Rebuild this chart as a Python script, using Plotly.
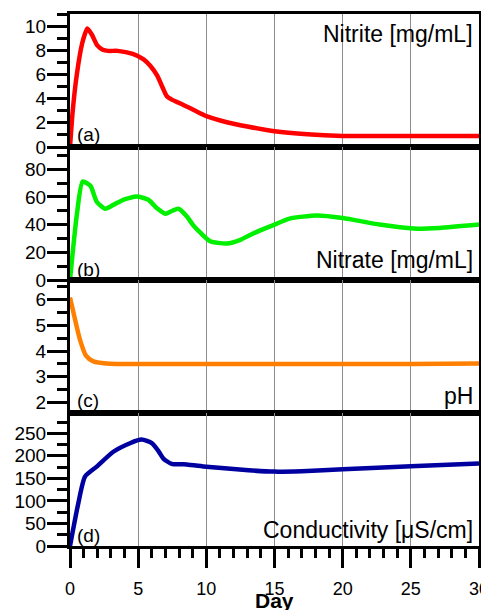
import plotly.graph_objects as go
from plotly.subplots import make_subplots

# ---- data ----
nitrite_day = [0, 0.2, 0.5, 0.9, 1.27, 1.6, 2.0, 2.4, 2.8, 3.5, 4.6, 5.4, 5.9, 6.4, 6.8, 7.1, 7.5, 8.1, 9.0, 10.0, 11.5, 13.0, 15.0, 17.4, 20.0, 25.0, 30.0]
nitrite_val = [0, 3.0, 6.0, 8.6, 9.8, 9.3, 8.4, 8.05, 7.95, 7.95, 7.7, 7.25, 6.7, 5.9, 4.9, 4.2, 3.9, 3.6, 3.1, 2.55, 2.05, 1.7, 1.3, 1.05, 0.92, 0.9, 0.9]

nitrate_day = [0, 0.5, 0.93, 1.5, 1.96, 2.57, 3.2, 3.9, 4.9, 5.75, 6.36, 7.0, 7.5, 7.95, 8.56, 9.0, 9.54, 10.27, 11.5, 12.5, 13.1, 14.0, 15.0, 16.1, 18.1, 20.0, 22.7, 25.2, 27.1, 30.0]
nitrate_val = [0, 47, 71, 68, 56.5, 51.5, 54.3, 57.9, 60.2, 57.9, 51.9, 47.8, 50, 51.4, 46, 40, 34.3, 28, 26.4, 29, 32, 36, 40, 44.3, 46.6, 44.8, 40, 37.1, 37.6, 40]

ph_day = [0, 0.37, 0.73, 1.17, 1.71, 2.93, 5, 10, 15, 20, 25, 30]
ph_val = [6.07, 5.22, 4.44, 3.82, 3.6, 3.51, 3.5, 3.5, 3.5, 3.5, 3.5, 3.52]

cond_day = [0, 0.61, 1.1, 1.96, 3.18, 4.4, 5.26, 6.0, 6.5, 6.85, 7.46, 8.56, 10.0, 13.1, 15.0, 17.0, 20.0, 25.0, 30.0]
cond_val = [0, 95, 154, 176, 209, 228, 236, 228, 210, 194, 182, 181, 176, 168, 165, 166, 170, 177, 183]

panel_names = ["Nitrite [mg/mL]", "Nitrate [mg/mL]", "pH", "Conductivity [\u03bcS/cm]"]
panel_tags = ["(a)", "(b)", "(c)", "(d)"]
y_ranges = [[0, 11], [0, 96], [1.6, 6.75], [0, 295]]
y_dticks = [2, 20, 1, 50]
y_minor = [1, 10, 0.5, 25]
colors = ["#FF0000", "#00F000", "#FF8000", "#0000A0"]

FONT = "Liberation Sans, Arial, sans-serif"

fig = make_subplots(rows=4, cols=1, shared_xaxes=True, vertical_spacing=0)

series = [(nitrite_day, nitrite_val), (nitrate_day, nitrate_val), (ph_day, ph_val), (cond_day, cond_val)]
for i, (xd, yd) in enumerate(series):
    fig.add_trace(go.Scatter(x=xd, y=yd, mode="lines",
                             line=dict(color=colors[i], width=4.5, shape="spline", smoothing=0.6),
                             showlegend=False, hoverinfo="skip"), row=i + 1, col=1)
    fig.update_yaxes(range=y_ranges[i], dtick=y_dticks[i], tick0=0, automargin=False,
                     ticks="outside", ticklen=20, tickwidth=3, tickcolor="black",
                     minor=dict(dtick=y_minor[i], tick0=0, ticks="outside", ticklen=10, tickwidth=3, tickcolor="black", showgrid=False),
                     showline=True, linewidth=3, linecolor="black", mirror=True,
                     showgrid=False, zeroline=False, ticklabelstandoff=-3,
                     tickfont=dict(family=FONT, size=19, color="black"),
                     row=i + 1, col=1)
    fig.update_xaxes(range=[0, 30], dtick=5, tick0=0, automargin=False,
                     showline=True, linewidth=3, linecolor="black", mirror=True,
                     showgrid=True, gridcolor="#8c8c8c", gridwidth=1.3, zeroline=False,
                     row=i + 1, col=1)

for i in range(1, 4):
    fig.update_xaxes(ticks="", showticklabels=False, row=i, col=1)
fig.update_xaxes(ticks="outside", ticklen=19, tickwidth=3, tickcolor="black",
                 minor=dict(dtick=1, tick0=0, ticks="outside", ticklen=9, tickwidth=3, tickcolor="black", showgrid=False),
                 showticklabels=True, tickfont=dict(family=FONT, size=18, color="black"),
                 ticklabelstandoff=5, ticklabeloverflow="allow",
                 row=4, col=1)

# annotations (paper coords)
name_y = [0.962, 0.5376, 0.282, 0.030]
tag_y = [0.7726, 0.5197, 0.2735, 0.0197]
for i in range(4):
    fig.add_annotation(text=panel_names[i], xref="paper", yref="paper", x=0.991, y=name_y[i],
                       xanchor="right", yanchor="middle", showarrow=False,
                       font=dict(family=FONT, size=23, color="black"))
    fig.add_annotation(text=panel_tags[i], xref="paper", yref="paper", x=0.012, y=tag_y[i],
                       xanchor="left", yanchor="middle", showarrow=False,
                       font=dict(family=FONT, size=19, color="black"))

fig.add_annotation(text="<b>Day</b>", xref="paper", yref="paper", x=0.5, y=-0.103,
                   xanchor="center", yanchor="middle", showarrow=False,
                   font=dict(family=FONT, size=21, color="black"))

# page has an 8px body margin, so the figure is sized to fit inside the window
fig.update_layout(width=481, height=602, margin=dict(l=62, r=10, t=6, b=64, autoexpand=False),
                  plot_bgcolor="white", paper_bgcolor="white")

fig.write_html("out.html")
